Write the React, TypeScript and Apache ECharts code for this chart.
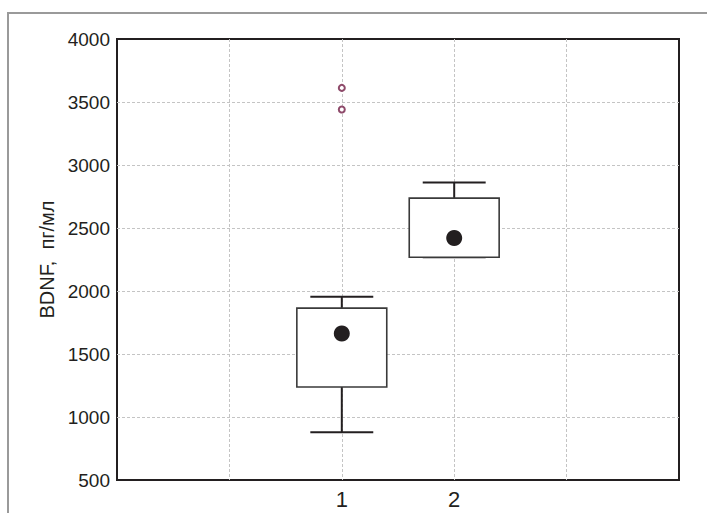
import React, { useEffect, useRef } from "react";
import * as echarts from "echarts";

// Box plot data: [x position, lower whisker, Q1, Q3, upper whisker]
const groups = [1, 2];
const lowerWhisker = [878, 2268];
const q1Values = [1238, 2268];
const q3Values = [1864, 2737];
const upperWhisker = [1954, 2861];
const centerValues = [1663, 2421];
const outlierX = [1, 1];
const outlierY = [3612, 3440];
const yTicks = { min: 500, max: 4000, step: 500 };
const xRange = { min: -1, max: 4, step: 1 };
const xLabels = [1, 2];

const INK = "#231f20";
const FONT = "'Liberation Sans', Arial, sans-serif";

export default function App() {
  const ref = useRef<HTMLDivElement>(null);
  useEffect(() => {
    if (!ref.current) return;
    const chart = echarts.init(ref.current, undefined, { renderer: "svg" });
    const boxData = groups.map((g, i) => [g, lowerWhisker[i], q1Values[i], q3Values[i], upperWhisker[i]]);
    const option: any = {
      animation: false,
      backgroundColor: "#ffffff",
      grid: {
        left: 117,
        right: 28,
        top: 39,
        bottom: 33,
        show: true,
        borderColor: INK,
        borderWidth: 2,
        backgroundColor: "transparent",
      },
      xAxis: {
        type: "value",
        min: xRange.min,
        max: xRange.max,
        interval: xRange.step,
        axisLine: { show: false },
        axisTick: { show: false },
        axisLabel: {
          formatter: (v: number) => (xLabels.includes(v) ? String(v) : ""),
          fontSize: 22,
          color: INK,
          fontFamily: FONT,
          margin: 8,
        },
        splitLine: {
          show: true,
          showMinLine: false,
          showMaxLine: false,
          lineStyle: { color: "#c4c4c4", type: [3, 2], width: 1 },
        },
      },
      yAxis: {
        type: "value",
        min: yTicks.min,
        max: yTicks.max,
        interval: yTicks.step,
        name: "BDNF,  пг/мл",
        nameLocation: "middle",
        nameRotate: 90,
        nameGap: 60,
        nameTextStyle: { fontSize: 20, color: INK, fontFamily: FONT },
        axisLine: { show: false },
        axisTick: { show: false },
        axisLabel: {
          formatter: (v: number) => String(v),
          fontSize: 19,
          color: INK,
          fontFamily: FONT,
          margin: 7,
        },
        splitLine: {
          show: true,
          showMinLine: false,
          showMaxLine: false,
          lineStyle: { color: "#c4c4c4", type: [3, 2], width: 1 },
        },
      },
      series: [
        {
          type: "custom",
          data: boxData,
          encode: { x: 0, y: [1, 2, 3, 4] },
          renderItem: (params: any, api: any) => {
            const x = api.value(0);
            const lo = api.coord([x, api.value(1)]);
            const b1 = api.coord([x, api.value(2)]);
            const b3 = api.coord([x, api.value(3)]);
            const hi = api.coord([x, api.value(4)]);
            const boxW = api.size([0.8, 0])[0];
            const capW = api.size([0.56, 0])[0];
            const cx = lo[0];
            const children: any[] = [];
            children.push({
              type: "line",
              shape: { x1: cx, y1: b3[1], x2: cx, y2: hi[1] },
              style: { stroke: INK, lineWidth: 2 },
            });
            children.push({
              type: "line",
              shape: { x1: cx, y1: b1[1], x2: cx, y2: lo[1] },
              style: { stroke: INK, lineWidth: 2 },
            });
            children.push({
              type: "line",
              shape: { x1: cx - capW / 2, y1: hi[1], x2: cx + capW / 2, y2: hi[1] },
              style: { stroke: INK, lineWidth: 2 },
            });
            children.push({
              type: "line",
              shape: { x1: cx - capW / 2, y1: lo[1], x2: cx + capW / 2, y2: lo[1] },
              style: { stroke: INK, lineWidth: 2 },
            });
            children.push({
              type: "rect",
              shape: { x: cx - boxW / 2, y: b3[1], width: boxW, height: b1[1] - b3[1] },
              style: { fill: "#ffffff", stroke: "#3a3a3a", lineWidth: 1.6 },
            });
            return { type: "group", children };
          },
          z: 2,
        },
        {
          type: "scatter",
          data: groups.map((g, i) => [g, centerValues[i]]),
          symbol: "circle",
          symbolSize: 16,
          itemStyle: { color: INK, opacity: 1 },
          z: 3,
        },
        {
          type: "scatter",
          data: outlierX.map((g, i) => [g, outlierY[i]]),
          symbol: "emptyCircle",
          symbolSize: 6,
          itemStyle: { color: "#8e4a6a", borderColor: "#8e4a6a", borderWidth: 1.3, opacity: 1 },
          z: 3,
        },
      ],
      graphic: [
        {
          type: "rect",
          shape: { x: 8, y: 13, width: 720, height: 520 },
          style: { fill: "none", stroke: "#9a9a9a", lineWidth: 2 },
          silent: true,
          z: 0,
        },
      ],
    };
    chart.setOption(option);
    return () => chart.dispose();
  }, []);
  return (
    <div
      ref={ref}
      style={{ position: "fixed", left: 0, top: 0, width: 707, height: 513 }}
    />
  );
}
